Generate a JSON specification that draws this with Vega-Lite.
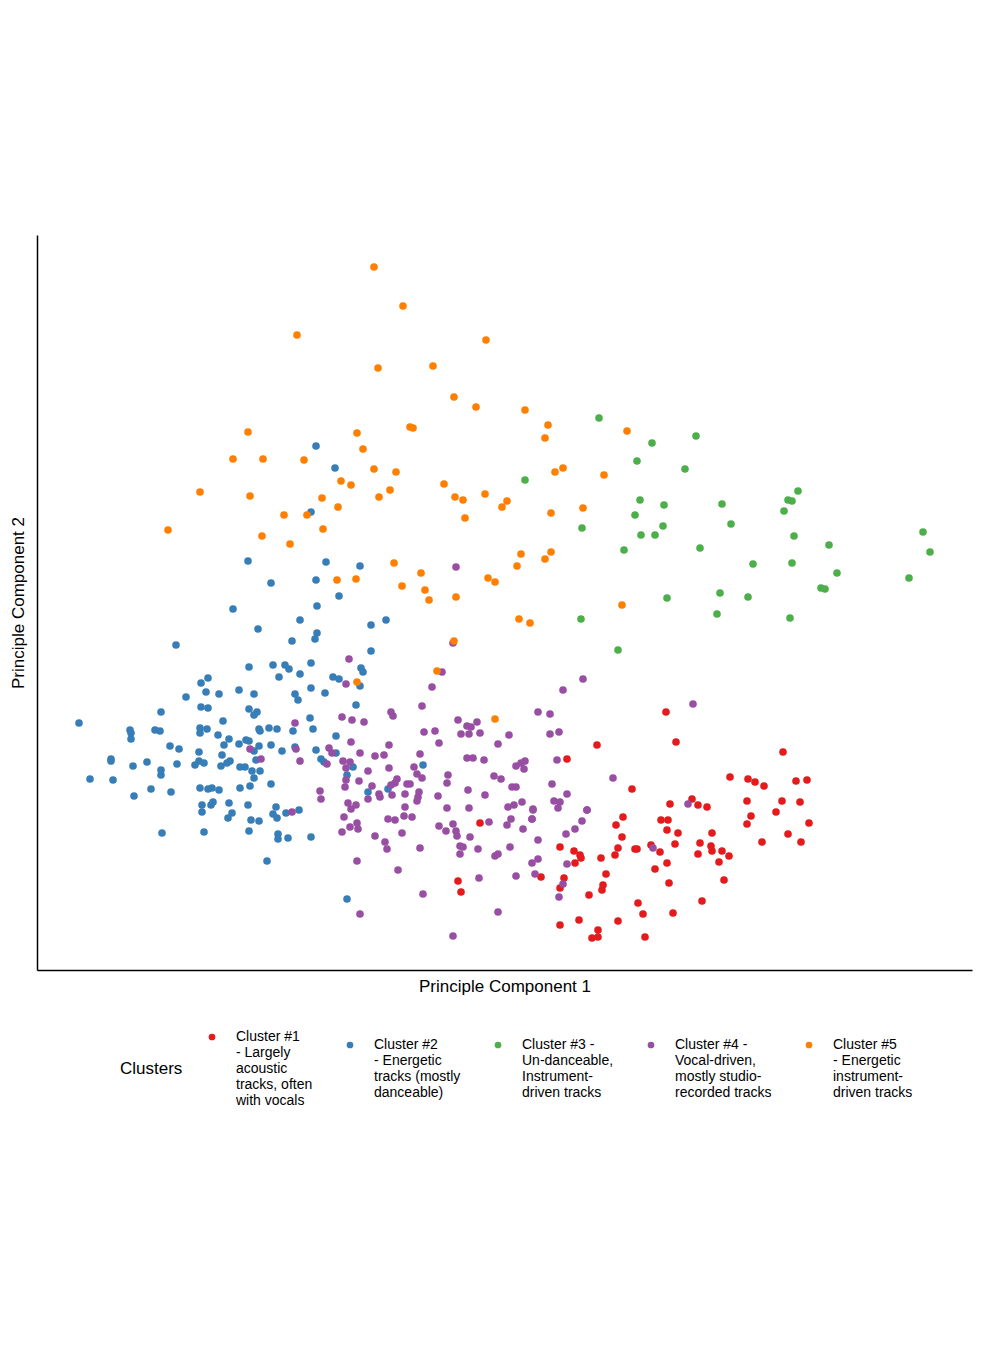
{
  "$schema": "https://vega.github.io/schema/vega-lite/v6.json",
  "width": 935,
  "height": 735,
  "autosize": "none",
  "padding": {"left": 37, "top": 235, "right": 10, "bottom": 145},
  "background": "white",
  "config": {"font": "Liberation Sans", "view": {"stroke": null}},
  "datasets": {
    "c1": [[666,712],[676,742],[597,745],[567,759],[783,752],[730,777],[748,779],[755,782],[764,786],[796,781],[807,780],[632,789],[747,801],[782,801],[800,802],[776,812],[751,816],[747,824],[809,823],[692,799],[698,805],[707,807],[670,804],[623,817],[616,825],[661,820],[668,820],[667,830],[678,833],[712,833],[788,834],[762,842],[801,842],[622,837],[618,848],[615,855],[635,849],[637,849],[651,845],[660,852],[675,844],[700,843],[698,854],[711,846],[712,851],[722,851],[729,856],[719,862],[667,863],[655,869],[724,880],[669,883],[702,901],[673,913],[638,903],[643,914],[618,921],[645,937],[598,930],[592,938],[598,937],[579,920],[560,925],[589,895],[606,874],[603,885],[602,890],[601,858],[560,847],[574,851],[580,855],[581,858],[575,863],[541,877],[564,878],[560,888],[480,823],[458,881],[461,892]],
    "c2": [[316,446],[335,468],[311,512],[248,561],[326,562],[360,566],[271,583],[316,580],[339,596],[233,609],[317,606],[300,620],[386,620],[258,629],[371,625],[292,641],[317,633],[315,639],[176,645],[371,651],[249,667],[273,665],[285,665],[289,669],[311,663],[279,677],[300,674],[333,677],[339,679],[361,668],[363,672],[208,678],[201,683],[206,692],[219,694],[186,697],[239,690],[254,694],[295,694],[298,700],[311,688],[325,693],[360,686],[356,705],[161,712],[201,707],[208,708],[249,709],[257,712],[254,715],[223,721],[310,718],[79,723],[130,730],[131,733],[131,739],[155,730],[160,731],[200,728],[207,729],[200,733],[259,729],[260,731],[269,728],[277,729],[293,731],[313,729],[218,735],[229,739],[224,745],[239,744],[246,740],[249,741],[259,746],[271,745],[282,751],[295,747],[316,750],[336,736],[336,753],[170,746],[179,749],[199,752],[222,755],[254,751],[256,760],[111,759],[111,761],[147,762],[133,766],[177,764],[195,765],[199,761],[204,763],[221,766],[227,763],[230,761],[240,767],[245,767],[252,771],[260,771],[321,759],[324,762],[353,767],[161,770],[161,775],[90,779],[113,780],[254,778],[347,775],[151,789],[171,792],[200,788],[208,789],[212,788],[219,790],[240,788],[250,786],[271,784],[368,792],[388,789],[423,765],[134,796],[202,805],[211,805],[213,802],[229,803],[248,805],[276,807],[202,812],[232,813],[228,818],[273,814],[277,818],[286,813],[299,810],[251,820],[259,821],[162,833],[204,832],[249,831],[278,834],[278,839],[288,838],[311,837],[267,861],[347,899]],
    "c3": [[599,418],[652,443],[696,436],[637,461],[685,469],[798,491],[788,500],[792,501],[784,511],[640,500],[664,505],[722,504],[635,515],[663,526],[582,528],[731,524],[641,535],[655,535],[794,536],[829,545],[923,532],[930,552],[624,550],[700,548],[753,564],[792,563],[837,573],[909,578],[821,588],[825,589],[720,593],[748,597],[667,598],[717,614],[790,618],[581,619],[618,650],[525,480]],
    "c4": [[456,567],[453,643],[349,659],[442,672],[432,687],[346,684],[583,679],[563,690],[693,704],[422,706],[391,712],[393,716],[342,717],[352,720],[364,722],[458,720],[467,726],[477,722],[471,727],[461,734],[469,734],[480,733],[538,712],[550,714],[550,734],[559,732],[424,732],[435,731],[509,735],[498,744],[439,743],[351,742],[389,745],[329,748],[332,753],[360,753],[375,756],[384,755],[420,754],[467,758],[473,758],[484,760],[343,761],[350,762],[327,764],[346,768],[414,767],[557,760],[516,766],[521,763],[525,761],[524,769],[368,771],[389,768],[417,774],[422,778],[448,775],[494,776],[501,779],[613,778],[346,780],[359,781],[397,779],[395,783],[391,785],[407,784],[410,784],[447,783],[552,784],[372,786],[345,787],[512,787],[516,787],[468,790],[320,791],[379,794],[380,797],[392,795],[405,794],[419,792],[418,797],[417,801],[438,796],[485,795],[567,794],[321,799],[368,799],[348,803],[356,805],[351,809],[522,802],[514,805],[508,807],[554,801],[560,802],[558,808],[405,807],[447,808],[469,808],[533,809],[587,810],[344,817],[388,819],[395,820],[404,816],[412,817],[582,821],[439,826],[453,824],[489,822],[511,819],[507,825],[532,819],[357,823],[358,829],[350,827],[446,831],[456,831],[457,836],[470,837],[523,829],[575,829],[566,834],[342,832],[375,836],[402,833],[385,842],[387,849],[420,848],[460,846],[463,847],[460,854],[478,849],[510,847],[538,840],[495,856],[498,854],[532,863],[538,859],[567,864],[357,861],[398,870],[479,878],[516,876],[535,874],[563,884],[559,897],[423,894],[498,912],[360,914],[453,936],[295,723],[250,749],[261,759],[300,761],[296,749],[292,812],[688,804],[653,848],[533,810],[532,819],[587,810]],
    "c5": [[374,267],[403,306],[297,335],[378,368],[433,366],[454,397],[476,407],[486,340],[525,410],[548,425],[545,438],[555,472],[563,468],[604,475],[627,431],[583,508],[622,605],[248,432],[357,433],[410,427],[413,428],[363,449],[233,459],[263,459],[304,460],[374,469],[396,472],[341,481],[351,485],[444,484],[200,492],[250,496],[322,498],[379,497],[390,490],[455,497],[463,500],[485,494],[507,501],[502,507],[551,513],[338,507],[284,515],[307,515],[465,518],[168,530],[323,529],[262,536],[290,544],[394,563],[421,573],[521,554],[551,552],[545,559],[517,566],[488,578],[495,582],[337,580],[356,579],[402,586],[425,590],[429,600],[456,597],[519,619],[530,623],[454,641],[437,671],[357,682],[495,719]]
  },
  "layer": [
    {"data": {"name": "c1"}, "transform": [{"calculate": "'1'", "as": "cluster"}, {"calculate": "datum[0]", "as": "px"}, {"calculate": "datum[1]", "as": "py"}], "mark": {"type": "circle", "size": 58, "opacity": 1},
     "encoding": {"x": {"field": "px", "type": "quantitative"}, "y": {"field": "py", "type": "quantitative"}, "color": {"field": "cluster", "type": "nominal"}}},
    {"data": {"name": "c2"}, "transform": [{"calculate": "'2'", "as": "cluster"}, {"calculate": "datum[0]", "as": "px"}, {"calculate": "datum[1]", "as": "py"}], "mark": {"type": "circle", "size": 58, "opacity": 1},
     "encoding": {"x": {"field": "px", "type": "quantitative"}, "y": {"field": "py", "type": "quantitative"}, "color": {"field": "cluster", "type": "nominal"}}},
    {"data": {"name": "c3"}, "transform": [{"calculate": "'3'", "as": "cluster"}, {"calculate": "datum[0]", "as": "px"}, {"calculate": "datum[1]", "as": "py"}], "mark": {"type": "circle", "size": 58, "opacity": 1},
     "encoding": {"x": {"field": "px", "type": "quantitative"}, "y": {"field": "py", "type": "quantitative"}, "color": {"field": "cluster", "type": "nominal"}}},
    {"data": {"name": "c4"}, "transform": [{"calculate": "'4'", "as": "cluster"}, {"calculate": "datum[0]", "as": "px"}, {"calculate": "datum[1]", "as": "py"}], "mark": {"type": "circle", "size": 58, "opacity": 1},
     "encoding": {"x": {"field": "px", "type": "quantitative"}, "y": {"field": "py", "type": "quantitative"}, "color": {"field": "cluster", "type": "nominal"}}},
    {"data": {"name": "c5"}, "transform": [{"calculate": "'5'", "as": "cluster"}, {"calculate": "datum[0]", "as": "px"}, {"calculate": "datum[1]", "as": "py"}], "mark": {"type": "circle", "size": 58, "opacity": 1},
     "encoding": {"x": {"field": "px", "type": "quantitative"}, "y": {"field": "py", "type": "quantitative"}, "color": {"field": "cluster", "type": "nominal"}}}
  ],
  "resolve": {"scale": {"x": "shared", "y": "shared", "color": "shared"}},
  "encoding": {
    "x": {"scale": {"domain": [37, 972], "nice": false, "zero": false},
      "axis": {"title": "Principle Component 1", "titleFontSize": 17, "titleFontWeight": "normal", "titleColor": "black", "titlePadding": 8, "labels": false, "ticks": false, "grid": false, "domainColor": "black", "domainWidth": 1.5}},
    "y": {"scale": {"domain": [235, 970], "nice": false, "zero": false, "reverse": true},
      "axis": {"title": "Principle Component 2", "titleFontSize": 17, "titleFontWeight": "normal", "titleColor": "black", "titlePadding": 10, "labels": false, "ticks": false, "grid": false, "domainColor": "black", "domainWidth": 1.5}},
    "color": {
      "scale": {"domain": ["1", "2", "3", "4", "5"], "range": ["#e41a1c", "#377eb8", "#4daf4a", "#984ea3", "#ff7f00"]},
      "legend": {
        "title": "Clusters", "orient": "none", "legendX": 83, "legendY": 795,
        "direction": "horizontal", "columns": 5, "titleOrient": "left", "titleFontSize": 17, "titleFontWeight": "normal", "titleColor": "black", "titlePadding": 22,
        "symbolType": "circle", "symbolSize": 45, "labelFontSize": 14, "labelColor": "black", "labelLimit": 200, "columnPadding": 30, "labelOffset": 17,
        "labelExpr": "datum.value == '1' ? ['Cluster #1', '- Largely', 'acoustic', 'tracks, often', 'with vocals'] : datum.value == '2' ? ['Cluster #2', '- Energetic', 'tracks (mostly', 'danceable)'] : datum.value == '3' ? ['Cluster #3 -', 'Un-danceable,', 'Instrument-', 'driven tracks'] : datum.value == '4' ? ['Cluster #4 -', 'Vocal-driven,', 'mostly studio-', 'recorded tracks'] : ['Cluster #5', '- Energetic', 'instrument-', 'driven tracks']"
      }
    }
  }
}
